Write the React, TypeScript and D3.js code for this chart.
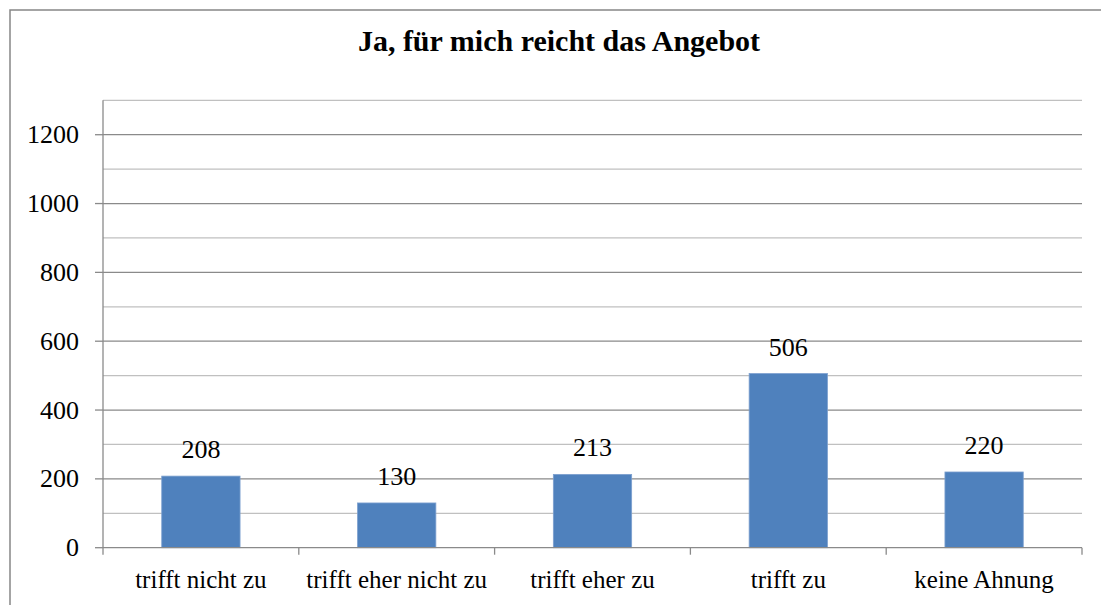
import React from "react";
import * as d3 from "d3";

const categories = ["trifft nicht zu", "trifft eher nicht zu", "trifft eher zu", "trifft zu", "keine Ahnung"];
const values = [208, 130, 213, 506, 220];
const majorTicks = [0, 200, 400, 600, 800, 1000, 1200];
const minorTicks = [100, 300, 500, 700, 900, 1100, 1300];
const title = "Ja, für mich reicht das Angebot";

export default function App() {
  const W = 1101, H = 605;
  const left = 103, right = 1082, top = 100.3, bottom = 547.7;
  const y = d3.scaleLinear().domain([0, 1300]).range([bottom, top]);
  const x = d3.scaleBand().domain(categories).range([left, right]).paddingInner(0.6).paddingOuter(0.3);
  const xb = d3.scaleBand().domain(categories).range([left, right]);
  const fs = { fontFamily: "'Liberation Serif', 'DejaVu Serif', serif" };
  return (
    <svg width={W} height={H} style={{ position: "absolute", left: 0, top: 0, background: "#fff" }}>
      <rect x={10} y={10} width={1098} height={600} fill="#fff" stroke="#868686" strokeWidth={1.5} />
      <text x={559} y={51} textAnchor="middle" fontSize={30} fontWeight="bold" fill="#000" style={fs}>{title}</text>
      {minorTicks.map(t => (
        <line key={"mi" + t} x1={left} x2={right} y1={y(t)} y2={y(t)} stroke="#c0c0c0" strokeWidth={1.2} />
      ))}
      {majorTicks.filter(t => t > 0).map(t => (
        <line key={"ma" + t} x1={left} x2={right} y1={y(t)} y2={y(t)} stroke="#8a8a8a" strokeWidth={1.3} />
      ))}
      {majorTicks.map(t => (
        <g key={"yt" + t}>
          <line x1={95} x2={left} y1={y(t)} y2={y(t)} stroke="#8a8a8a" strokeWidth={1.3} />
          <text x={79} y={y(t)} dy="0.33em" textAnchor="end" fontSize={26} fill="#000" style={fs}>{t}</text>
        </g>
      ))}
      {values.map((v, i) => {
        const c = categories[i];
        return (
          <g key={c}>
            <rect x={x(c)} y={y(v)} width={x.bandwidth()} height={bottom - y(v)} fill="#4f81bd" stroke="#7da0cf" strokeWidth={0.8} />
            <text x={x(c)! + x.bandwidth() / 2} y={y(v) - 18} textAnchor="middle" fontSize={26} fill="#000" style={fs}>{v}</text>
          </g>
        );
      })}
      <line x1={left} x2={left} y1={top} y2={bottom} stroke="#8a8a8a" strokeWidth={1.3} />
      <line x1={left} x2={right} y1={bottom} y2={bottom} stroke="#8a8a8a" strokeWidth={1.3} />
      {categories.map(c => (
        <line key={"xt" + c} x1={xb(c)} x2={xb(c)} y1={bottom} y2={bottom + 7} stroke="#8a8a8a" strokeWidth={1.3} />
      ))}
      <line x1={right} x2={right} y1={bottom} y2={bottom + 7} stroke="#8a8a8a" strokeWidth={1.3} />
      {categories.map(c => (
        <text key={"xl" + c} x={xb(c)! + xb.bandwidth() / 2} y={588} textAnchor="middle" fontSize={25} fill="#000" style={fs}>{c}</text>
      ))}
    </svg>
  );
}
